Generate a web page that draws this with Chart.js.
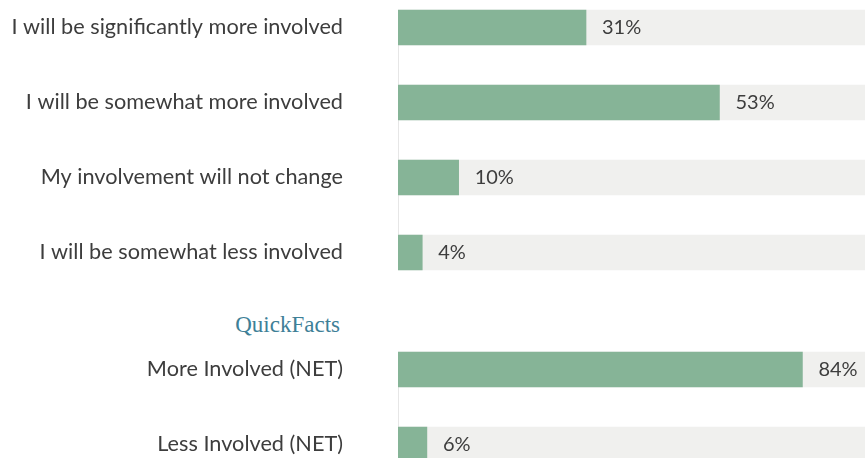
<!DOCTYPE html>
<html>
<head>
<meta charset="utf-8">
<script src="https://cdn.jsdelivr.net/npm/chart.js@4.4.1/dist/chart.umd.min.js"></script>
<style>
    html, body { margin: 0; padding: 0; background: #fff; overflow: hidden; }
    #wrap { position: relative; width: 865px; height: 458px; overflow: hidden; }
    canvas { position: absolute; left: 0; display: block; }
    #cMain { top: -10px; }
    #cNet { top: 332px; }
    #qf { position: absolute; right: 525px; top: 312px; font-family: 'Liberation Serif', Georgia, serif; font-size: 23px; line-height: 26px; color: #3e8097; }
</style>
</head>
<body>
<div id="wrap">
    <canvas id="cMain" width="865" height="300"></canvas>
    <div id="qf">QuickFacts</div>
    <canvas id="cNet" width="865" height="150"></canvas>
</div>
<script>
// ===== Involvement survey bars =====
const mainLabels = ['I will be significantly more involved', 'I will be somewhat more involved', 'My involvement will not change', 'I will be somewhat less involved'];
const mainValues = [31, 53, 10, 4];
const netLabels = ['More Involved (NET)', 'Less Involved (NET)'];
const netValues = [84, 6];
const mainMax = 77;
const netMax = 97;

const GREEN = '#86b497';
const TRACK = '#f0f0ee';
const TEXT = '#3d3d3d';
const FONT = 'Lato';

// draws "31%" etc. just past the end of each green bar
const valueLabels = {
    id: 'valueLabels',
    afterDatasetsDraw(chart) {
        const ctx = chart.ctx;
        const ds = chart.data.datasets[0];
        ctx.save();
        ctx.font = `20px ${FONT}`;
        ctx.fillStyle = TEXT;
        ctx.textBaseline = 'middle';
        ctx.textAlign = 'left';
        chart.getDatasetMeta(0).data.forEach((bar, i) => {
            ctx.fillText(ds.data[i] + '%', bar.x + 16, bar.y);
        });
        ctx.restore();
    }
};

// thin axis line only from the first bar's top to the last bar's bottom
const barAxisLine = {
    id: 'barAxisLine',
    beforeDatasetsDraw(chart) {
        const bars = chart.getDatasetMeta(1).data;
        if (!bars.length) return;
        const first = bars[0], last = bars[bars.length - 1];
        const x = chart.chartArea.left + 0.5;
        const ctx = chart.ctx;
        ctx.save();
        ctx.strokeStyle = '#e6e6e6';
        ctx.lineWidth = 1;
        ctx.beginPath();
        ctx.moveTo(x, first.y - first.height / 2);
        ctx.lineTo(x, last.y + last.height / 2);
        ctx.stroke();
        ctx.restore();
    }
};

function renderBars(canvasId, labels, values, max) {
    const ctx = document.getElementById(canvasId).getContext('2d');
    return new Chart(ctx, {
        type: 'bar',
        data: { labels, datasets: [
            { data: values, backgroundColor: GREEN, barThickness: 35, grouped: false, borderWidth: 0 },
            { data: labels.map(() => max), backgroundColor: TRACK, barThickness: 35, grouped: false, borderWidth: 0 }
        ] },
        options: { indexAxis: 'y', responsive: false, animation: false,
            layout: { padding: 0 },
            scales: {
                x: { display: false, min: 0, max },
                // tick padding would also pad top/bottom, so zero that out
                y: { afterFit: s => { s.width = 398; s.paddingTop = 0; s.paddingBottom = 0; },
                    grid: { display: false, drawTicks: false },
                    border: { display: false },
                    ticks: { color: TEXT, font: { family: FONT, size: 21.7 }, padding: 55 } }
            },
            plugins: { legend: { display: false }, tooltip: { enabled: false } }
        },
        plugins: [barAxisLine, valueLabels]
    });
}

renderBars('cMain', mainLabels, mainValues, mainMax);
renderBars('cNet', netLabels, netValues, netMax);
</script>
</body>
</html>
